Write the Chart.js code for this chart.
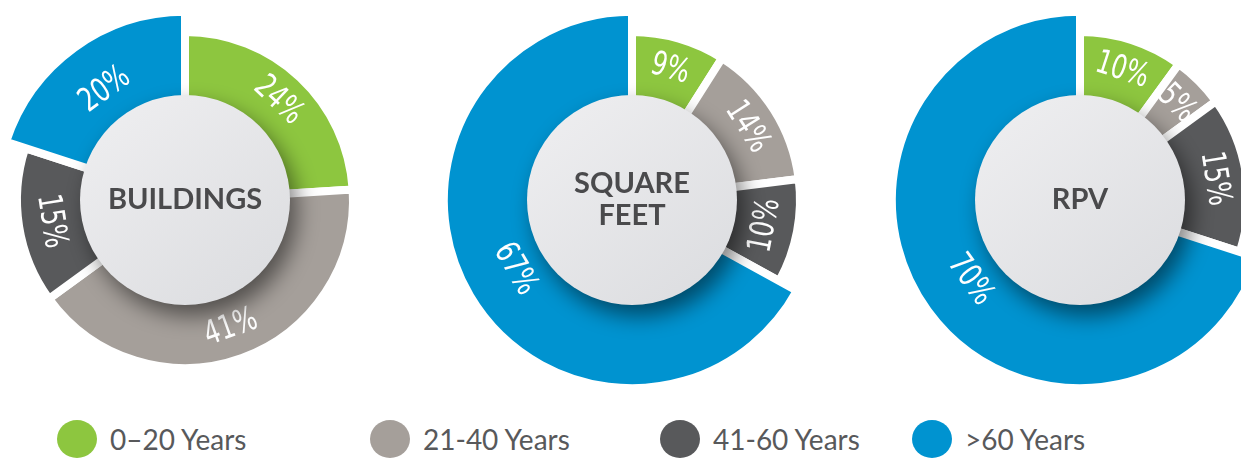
<!DOCTYPE html>
<html lang="en">
<head>
<meta charset="UTF-8" />
<title>Building age</title>
<script src="https://cdn.jsdelivr.net/npm/chart.js"></script>
<style>
  html, body { margin: 0; padding: 0; background: #fff; }
  body { position: relative; width: 1241px; height: 458px; overflow: hidden; }
  .pie { position: absolute; top: -10px; width: 420px; height: 420px; }
  #legend { position: absolute; left: 0; top: 420px; width: 1241px; height: 38px; }
  .item { position: absolute; top: 0; height: 38px; display: flex; align-items: center;
          font-family: Lato, 'Open Sans', sans-serif; font-size: 28px; color: #58595b; white-space: nowrap; }
  .dot { width: 40px; height: 38px; border-radius: 50%; margin-right: 13px; }
</style>
</head>
<body>
  <canvas id="c0" class="pie" width="420" height="420" style="left:-25px"></canvas>
  <canvas id="c1" class="pie" width="420" height="420" style="left:422px"></canvas>
  <canvas id="c2" class="pie" width="420" height="420" style="left:870px"></canvas>
  <div id="legend"></div>

<script>
// data
const categories = ['0–20 Years', '21-40 Years', '41-60 Years', '>60 Years'];
const chartNames = [['BUILDINGS'], ['SQUARE', 'FEET'], ['RPV']];
const buildings = [24, 41, 15, 20];
const squareFeet = [9, 14, 10, 67];
const rpv = [10, 5, 15, 70];

// styles
const sliceColors = ['#8dc63f', '#a59f9a', '#58595b', '#0093d0'];
const radiusScale = [1, 1, 1, 1.12];   // the >60 slice sticks out further
const legendLeft = [57, 370, 660, 912];

// stretch slices listed in radiusScale
const bigSlice = {
    id: 'bigSlice',
    afterDatasetUpdate(chart, args) {
        args.meta.data.forEach((arc, i) => { arc.outerRadius *= radiusScale[i]; });
    }
};

// percent labels + the grey disc in the middle
const discAndLabels = {
    id: 'discAndLabels',
    afterDatasetsDraw(chart, args, opts) {
        const ctx = chart.ctx;
        const arcs = chart.getDatasetMeta(0).data;
        const values = chart.data.datasets[0].data;
        const { x, y } = arcs[0];

        arcs.forEach((arc, i) => {
            const mid = (arc.startAngle + arc.endAngle) / 2;
            // text runs along the ring, kept upright
            let rot = Math.atan2(Math.sin(mid + Math.PI / 2), Math.cos(mid + Math.PI / 2));
            if (rot > Math.PI / 2) rot -= Math.PI;
            if (rot < -Math.PI / 2) rot += Math.PI;
            ctx.save();
            ctx.translate(x + Math.cos(mid) * 136, y + Math.sin(mid) * 136);
            ctx.rotate(rot);
            ctx.scale(0.82, 1);
            ctx.fillStyle = '#fff';
            ctx.font = '33px "Liberation Sans Narrow", "DejaVu Sans Condensed", Roboto, sans-serif';
            ctx.textAlign = 'center';
            ctx.textBaseline = 'middle';
            ctx.fillText(values[i] + '%', 0, 0);
            ctx.restore();
        });

        ctx.save();
        ctx.shadowColor = 'rgba(0,0,0,0.5)';
        ctx.shadowBlur = 22;
        ctx.shadowOffsetX = 7;
        ctx.shadowOffsetY = 11;
        const g = ctx.createLinearGradient(x - 80, y - 100, x + 80, y + 100);
        g.addColorStop(0, '#eeeef0');
        g.addColorStop(1, '#dcdde0');
        ctx.fillStyle = g;
        ctx.beginPath();
        ctx.arc(x, y, 105, 0, Math.PI * 2);
        ctx.fill();
        ctx.restore();

        const lines = opts.title;
        ctx.save();
        ctx.fillStyle = '#4a4a4c';
        ctx.font = 'bold 29px Lato, "Open Sans", sans-serif';
        ctx.textAlign = 'center';
        ctx.textBaseline = 'middle';
        lines.forEach((t, k) => {
            ctx.fillText(t, x, y + (k - (lines.length - 1) / 2) * 32);
        });
        ctx.restore();
    }
};

function makeChart(id, values, title) {
    new Chart(document.getElementById(id), {
        type: 'doughnut',
        data: {
            labels: categories,
            datasets: [{
                data: values,
                backgroundColor: sliceColors,
                borderColor: '#fff',
                borderWidth: 8
            }]
        },
        options: {
            responsive: false,
            animation: false,
            radius: 168,
            cutout: 80,
            plugins: {
                legend: { display: false },
                tooltip: { enabled: false },
                discAndLabels: { title: title }
            }
        },
        plugins: [bigSlice, discAndLabels]
    });
}

makeChart('c0', buildings, chartNames[0]);
makeChart('c1', squareFeet, chartNames[1]);
makeChart('c2', rpv, chartNames[2]);

// legend
const legend = document.getElementById('legend');
categories.forEach((name, i) => {
    const item = document.createElement('div');
    item.className = 'item';
    item.style.left = legendLeft[i] + 'px';
    item.innerHTML = '<span class="dot" style="background:' + sliceColors[i] + '"></span><span></span>';
    item.lastChild.textContent = name;
    legend.appendChild(item);
});
</script>
</body>
</html>
